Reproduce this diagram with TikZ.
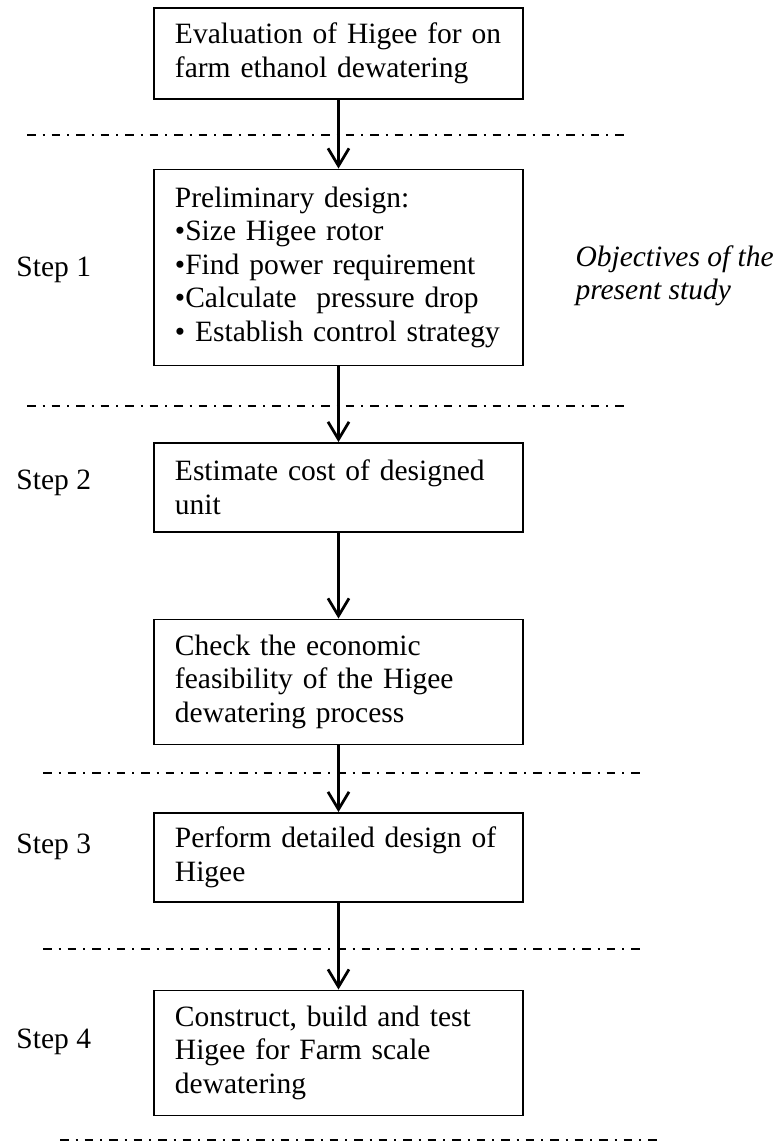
\documentclass[tikz,border=0pt]{standalone}
\usepackage{fontspec}
\setmainfont{Liberation Serif}
\usepackage{tikz}
\usetikzlibrary{arrows.meta,positioning}
\tikzset{
  stagebox/.style={
    rectangle, draw=black, line width=0.6pt,
    minimum width=147.6pt, minimum height=#1,
    text width=130.8pt, inner xsep=8.4pt, align=left,
    font=\fontsize{11.8pt}{13.4pt}\selectfont
  },
  stagebox/.default=36.4pt,
  steplabel/.style={font=\fontsize{11.8pt}{13.4pt}\selectfont, inner sep=0pt},
  flowarrow/.style={
    -{Straight Barb[length=7pt, width=8.4pt]}, line width=1.1pt
  },
  sepline/.style={line width=1.15pt,
    dash pattern=on 3.4pt off 2.8pt on 0.8pt off 2.8pt},
}
\begin{document}
\begin{tikzpicture}[x=0.4pt, y=-0.4pt]
  \useasboundingbox (0,0) rectangle (773,1141);
  % boxes
  \node[stagebox, anchor=north] at (338.5,7) (eval)
    {Evaluation of Higee for on\\farm ethanol dewatering};
  \node[stagebox=78.4pt, below=27.6pt of eval] (prelim)
    {Preliminary design:\\•Size Higee rotor\\•Find power requirement\\•Calculate\ \ pressure drop\\• Establish control strategy};
  \node[stagebox=35.6pt, below=30.4pt of prelim] (cost)
    {Estimate cost of designed\\unit};
  \node[stagebox=50pt, below=34.4pt of cost] (econ)
    {Check the economic\\feasibility of the Higee\\dewatering process};
  \node[stagebox=35.6pt, below=26.8pt of econ] (detail)
    {Perform detailed design of\\Higee};
  \node[stagebox=50pt, below=34.8pt of detail] (build)
    {Construct, build and test\\Higee for Farm scale\\dewatering};
  % step labels
  \node[steplabel, anchor=west] at (16,270) (s1) {Step 1};
  \node[steplabel, anchor=west] at (16,483) (s2) {Step 2};
  \node[steplabel, anchor=west] at (16,847) (s3) {Step 3};
  \node[steplabel, anchor=west] at (16,1042) (s4) {Step 4};
  \node[steplabel, align=left, anchor=west, font=\fontsize{11.8pt}{13.4pt}\selectfont\itshape]
    at (575,276) (obj) {Objectives of the\\present study};
  % separators
  \draw[sepline] (27,135) -- (628,135);
  \draw[sepline] (27,406) -- (628,406);
  \draw[sepline] (43,773) -- (644,773);
  \draw[sepline] (43,949) -- (644,949);
  \draw[sepline] (60,1140.5) -- (660,1140.5);
  % arrows
  \foreach \a/\b in {eval/prelim,prelim/cost,cost/econ,econ/detail,detail/build}
    { \draw[flowarrow] (\a) -- (\b); }
\end{tikzpicture}
\end{document}
